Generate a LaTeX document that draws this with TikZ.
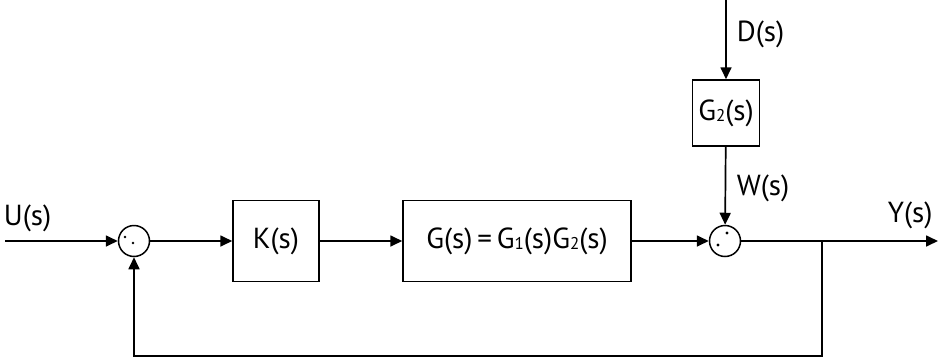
\documentclass[tikz,border=0pt]{standalone}
\usepackage{fontspec}
\setmainfont{PT Sans}
\usetikzlibrary{arrows.meta}
\newcommand{\sub}[1]{\raisebox{-0.1ex}{\fontsize{17}{17}\selectfont #1}}
\begin{document}
\begin{tikzpicture}[x=1pt,y=-1pt,
  line width=1.7pt,
  every node/.style={font=\fontsize{29}{31}\selectfont},
  blockbox/.style={draw, line width=1.5pt, minimum height=81pt, inner sep=0pt},
  sumnode/.style={draw, circle, line width=1.5pt, minimum size=31pt, inner sep=0pt},
  sig/.style={-{Triangle[length=12pt,width=11pt]}},
  lbl/.style={inner sep=0pt, anchor=base west}]
  \useasboundingbox (0,0) rectangle (938,362);
  % blocks
  \node[sumnode] (s1) at (134,241) {};
  \node[blockbox, minimum width=86pt] (k) at (276,241) {K(s)};
  \node[blockbox, minimum width=228pt] (g) at (517,241) {G(s)\,=\,G\sub{1}(s)G\sub{2}(s)};
  \node[sumnode] (s2) at (725,241) {};
  \node[blockbox, minimum width=67pt, minimum height=66pt] (g2) at (726,113) {G\sub{2}(s)};
  % signs in the junctions
  \fill (125,237) circle (1.4pt) (133,243) circle (1.4pt);
  \fill (718,245) circle (1.6pt) (727,233) circle (1.6pt);
  % free ends
  \coordinate (uin) at (5,241);
  \coordinate (dtop) at (726,0);
  \coordinate (yout) at (938,241);
  \coordinate (br) at (822,241);
  \coordinate (fb1) at (822,356);
  \coordinate (fb2) at (134,356);
  % signal flow
  \draw[sig] (uin) -- (s1);
  \draw[sig] (s1) -- (k);
  \draw[sig] (k) -- (g);
  \draw[sig] (g) -- (s2);
  \draw[sig] (dtop) -- (g2);
  \draw[sig] (g2) -- (s2);
  \draw[sig] (s2) -- (yout);
  \draw[sig] (br) -- (fb1) -- (fb2) -- (s1);
  % labels
  \node[lbl] (lu) at (3,225) {U(s)};
  \node[lbl] (ld) at (736,41) {D(s)};
  \node[lbl] (lw) at (736,195) {W(s)};
  \node[lbl] (ly) at (887,222) {Y(s)};
\end{tikzpicture}
\end{document}
